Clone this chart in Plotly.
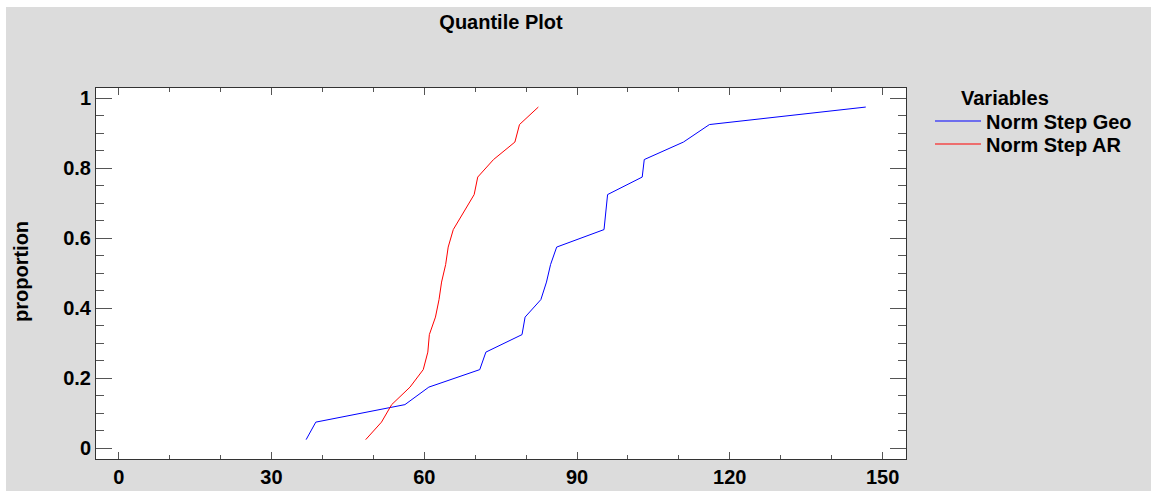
import plotly.graph_objects as go

# ---- data ----
proportion = [0.025, 0.075, 0.125, 0.175, 0.225, 0.275, 0.325, 0.375, 0.425, 0.475,
              0.525, 0.575, 0.625, 0.675, 0.725, 0.775, 0.825, 0.875, 0.925, 0.975]
norm_step_geo = [36.8, 38.7, 56.2, 60.9, 70.9, 72.1, 79.2, 79.8, 82.9, 84.0,
                 84.8, 86.0, 95.3, 95.6, 96.0, 102.8, 103.2, 110.9, 116.0, 146.7]
norm_step_ar = [48.5, 51.6, 53.6, 57.2, 59.8, 60.7, 61.0, 62.2, 62.9, 63.4,
                64.2, 64.7, 65.7, 67.7, 69.8, 70.5, 73.6, 77.8, 78.7, 82.4]
series_names = ["Norm Step Geo", "Norm Step AR"]
x_ticks = [0, 30, 60, 90, 120, 150]
y_ticks = [0, 0.2, 0.4, 0.6, 0.8, 1]

W, H = 1151, 491
L, R, T, B = 96, 245, 88, 32
PW, PH = W - L - R, H - T - B

FONT = "Liberation Sans, Arial, sans-serif"
font20 = dict(family=FONT, size=20, color="black", weight="bold")

fig = go.Figure()
fig.add_trace(go.Scatter(x=norm_step_geo, y=proportion, mode="lines",
                         name=series_names[0], legend="legend",
                         line=dict(color="#0000FF", width=1)))
fig.add_trace(go.Scatter(x=norm_step_ar, y=proportion, mode="lines",
                         name=series_names[1], legend="legend2",
                         line=dict(color="#FF0000", width=1)))

def px_x(p):
    return (p - L) / PW

def px_y(p):
    return (H - B - p) / PH

axis_common = dict(showgrid=False, zeroline=False, showline=True, linecolor="#333333",
                   linewidth=1, mirror="ticks", ticks="inside", tickcolor="#555555",
                   tickfont=font20, automargin=False)

legend_common = dict(xanchor="left", yanchor="top", bgcolor="rgba(0,0,0,0)",
                     borderwidth=0, font=font20, itemwidth=46, tracegroupgap=0)

fig.update_layout(
    width=W, height=H, autosize=False,
    margin=dict(l=L, r=R, t=T, b=B, pad=0, autoexpand=False),
    paper_bgcolor="#DCDCDC", plot_bgcolor="white",
    title=dict(text="Quantile Plot", x=0.5, xref="paper", xanchor="center",
               y=1 - 22 / H, yref="container", yanchor="middle", font=font20),
    xaxis=dict(range=[-4.46, 154.6], tickmode="array", tickvals=x_ticks,
               ticktext=[str(v) for v in x_ticks], ticklen=7,
               minor=dict(tick0=0, dtick=10, ticks="inside", ticklen=4,
                          tickcolor="#555555", showgrid=False),
               **axis_common),
    yaxis=dict(range=[-0.0303, 1.0294], tickmode="array", tickvals=y_ticks,
               ticktext=["0", "0.2", "0.4", "0.6", "0.8", "1"], ticklen=16,
               minor=dict(tick0=0, dtick=0.05, ticks="inside", ticklen=8,
                          tickcolor="#555555", showgrid=False),
               **axis_common),
    showlegend=True,
    legend=dict(x=px_x(930), y=px_y(101.5), **legend_common),
    legend2=dict(x=px_x(930), y=px_y(124.5), **legend_common),
    annotations=[
        dict(text="Variables", x=px_x(959), y=px_y(98), xref="paper", yref="paper",
             xanchor="left", yanchor="middle", showarrow=False, font=font20),
        dict(text="proportion", x=px_x(21), y=px_y(272), xref="paper", yref="paper",
             xanchor="center", yanchor="middle", textangle=-90, showarrow=False,
             font=font20),
    ],
    shapes=[
        dict(type="rect", xref="paper", yref="paper", x0=px_x(0), x1=px_x(W),
             y0=px_y(7), y1=px_y(0), fillcolor="white", line=dict(width=0), layer="below"),
        dict(type="rect", xref="paper", yref="paper", x0=px_x(0), x1=px_x(6),
             y0=px_y(H), y1=px_y(0), fillcolor="white", line=dict(width=0), layer="below"),
    ],
)

fig.write_html("out.html")
